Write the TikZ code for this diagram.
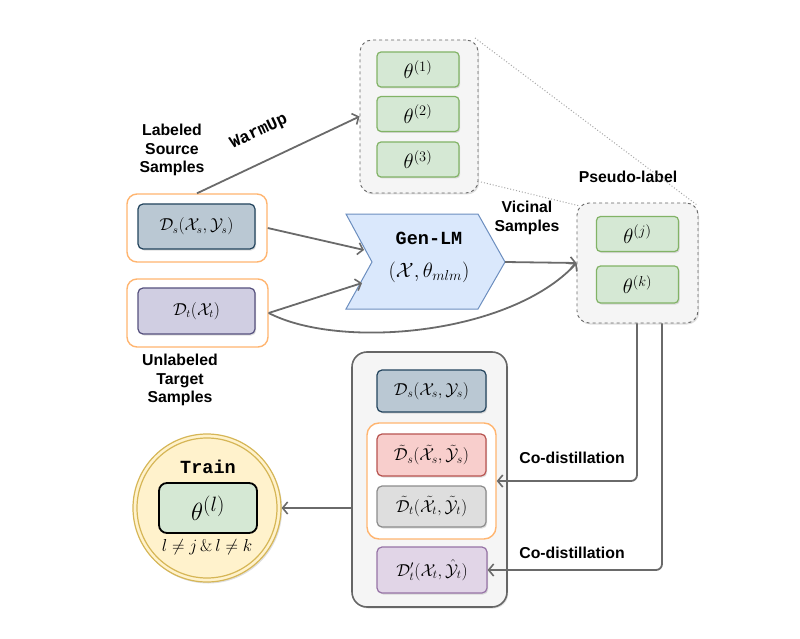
\documentclass[tikz,border=0pt]{standalone}
\usepackage{fontspec}
\setsansfont{Liberation Sans}
\setmonofont{Liberation Mono}
\usepackage{amsmath,amssymb}
\usetikzlibrary{arrows.meta,shadows,positioning}
\definecolor{grnF}{HTML}{D5E8D4}\definecolor{grnD}{HTML}{82B366}
\definecolor{grpF}{HTML}{F5F5F5}\definecolor{grpD}{HTML}{666666}
\definecolor{bluF}{HTML}{BAC8D3}\definecolor{bluD}{HTML}{23445D}
\definecolor{purF}{HTML}{D0CEE2}\definecolor{purD}{HTML}{56517E}
\definecolor{orgD}{HTML}{FFB570}
\definecolor{genF}{HTML}{DAE8FC}\definecolor{genD}{HTML}{6C8EBF}
\definecolor{redF}{HTML}{F8CECC}\definecolor{redD}{HTML}{B85450}
\definecolor{gryF}{HTML}{DEDEDE}\definecolor{gryD}{HTML}{8C8C8C}
\definecolor{lpuF}{HTML}{E1D5E7}\definecolor{lpuD}{HTML}{9673A6}
\definecolor{ylwF}{HTML}{FFF2CC}\definecolor{ylwD}{HTML}{D6B656}
\definecolor{arr}{HTML}{6A6A6A}
\tikzset{
  shd/.style={drop shadow={opacity=0.25,shadow xshift=1.2pt,shadow yshift=-1.5pt}},
  thbox/.style={draw=grnD,fill=grnF,line width=1.2pt,rounded corners=4pt,minimum width=82pt,minimum height=35pt,shd,font=\fontsize{21}{21}\selectfont},
  grpbox/.style={draw=grpD,fill=grpF,dashed,line width=0.9pt,rounded corners=12pt,shd},
  orgbox/.style={draw=orgD,fill=white,line width=1.4pt,rounded corners=10pt},
  dbox/.style={rounded corners=5pt,line width=1.2pt,shd,font=\fontsize{16}{16}\selectfont},
  bbox/.style={dbox,minimum width=109pt,font=\fontsize{18.5}{18.5}\selectfont},
  lbl/.style={font=\sffamily\bfseries\fontsize{15.8}{18.5}\selectfont,align=center},
  conn/.style={draw=arr,line width=1.8pt,-{Straight Barb[length=5pt,width=12pt,line width=1.6pt]}},
  dotl/.style={draw=gray!70,dotted,line width=1pt},
}
\begin{document}
\begin{tikzpicture}[x=1pt,y=-1pt]
\useasboundingbox (0,0) rectangle (800,639);
% top group
\node[grpbox,minimum width=118pt,minimum height=153pt] (g) at (419,116.5) {};
\node[thbox] (t1) at (418,69.5) {$\theta^{(1)}$};
\node[thbox] (t2) at (418,114) {$\theta^{(2)}$};
\node[thbox] (t3) at (418,159.5) {$\theta^{(3)}$};
% source / target
\node[orgbox,minimum width=140pt,minimum height=68pt] (oS) at (197,228) {};
\node[dbox,draw=bluD,fill=bluF,minimum width=117pt,minimum height=45pt] (dS) at (196.5,226.5) {$\mathcal{D}_s(\mathcal{X}_s,\mathcal{Y}_s)$};
\node[orgbox,minimum width=141pt,minimum height=68pt] (oT) at (197.5,313) {};
\node[dbox,draw=purD,fill=purF,minimum width=117pt,minimum height=46pt] (dT) at (196.5,311) {$\mathcal{D}_t(\mathcal{X}_t)$};
\node[lbl] (lsrc) at (172,150) {Labeled\\Source\\Samples};
\node[lbl] (ltgt) at (180,380) {Unlabeled\\Target\\Samples};
% Gen-LM
\coordinate (gA) at (346,214); \coordinate (gB) at (478,214);
\coordinate (gTip) at (505,262); \coordinate (gC) at (478,309);
\coordinate (gD) at (346,309); \coordinate (gN) at (372,262);
\coordinate (gInS) at (364,250); \coordinate (gInT) at (362,283);
\draw[draw=genD,fill=genF,line width=1pt] (gA)--(gB)--(gTip)--(gC)--(gD)--(gN)--cycle;
\node[font=\ttfamily\bfseries\fontsize{18.5}{18.5}\selectfont] (gl) at (429,238) {Gen-LM};
\node[font=\fontsize{22}{22}\selectfont] (gm) at (429,272) {$(\mathcal{X},\theta_{mlm})$};
% pseudo-label group
\node[grpbox,minimum width=121pt,minimum height=120pt] (P) at (637.5,263) {};
\node[thbox] (tj) at (637.5,234) {$\theta^{(j)}$};
\node[thbox,minimum height=37pt] (tk) at (637.5,284.5) {$\theta^{(k)}$};
\node[lbl] (lps) at (628,177) {Pseudo-label};
\node[lbl] (lvic) at (527,218) {Vicinal\\Samples};
% dotted zoom lines
\draw[dotl] (475,38) -- (697,205);
\draw[dotl] (481,182) -- (580,206);
% big box
\node[draw=grpD,fill=grpF,line width=1.6pt,rounded corners=15pt,minimum width=155pt,minimum height=255pt,shd] (B) at (429.5,479.5) {};
\node[bbox,draw=bluD,fill=bluF,minimum height=42pt] (bS) at (431.5,391) {$\mathcal{D}_s(\mathcal{X}_s,\mathcal{Y}_s)$};
\node[orgbox,minimum width=129pt,minimum height=116pt,rounded corners=12pt] (O2) at (431.5,481) {};
\node[bbox,draw=redD,fill=redF,minimum height=42pt] (bR) at (431.5,455) {$\tilde{\mathcal{D}}_s(\tilde{\mathcal{X}}_s,\tilde{\mathcal{Y}}_s)$};
\node[bbox,draw=gryD,fill=gryF,minimum height=41pt] (bG) at (431.5,506.5) {$\tilde{\mathcal{D}}_t(\tilde{\mathcal{X}}_t,\tilde{\mathcal{Y}}_t)$};
\node[bbox,draw=lpuD,fill=lpuF,minimum width=110pt,minimum height=46pt] (bP) at (432,570) {$\mathcal{D}'_t(\mathcal{X}_t,\hat{\mathcal{Y}}_t)$};
\node[lbl] (lc1) at (572,458) {Co-distillation};
\node[lbl] (lc2) at (572,553) {Co-distillation};
% train circle
\node[circle,draw=ylwD,fill=ylwF,line width=1.2pt,minimum size=148pt,shd] (C) at (207,508) {};
\node[circle,draw=ylwD,line width=1.2pt,minimum size=140pt] (Ci) at (207,508) {};
\node[font=\ttfamily\bfseries\fontsize{18.5}{18.5}\selectfont] (tr) at (208,467) {Train};
\node[draw=black,fill=grnF,line width=1.8pt,rounded corners=8pt,minimum width=98pt,minimum height=50pt,font=\fontsize{30}{30}\selectfont] (tl) at (208,508) {$\theta^{(l)}$};
\node[font=\fontsize{17}{17}\selectfont] (cond) at (207,547) {$l\neq j\,\&\,l\neq k$};
% connectors
\draw[conn] (oS.north) -- (g.west);
\node[font=\ttfamily\bfseries\fontsize{17}{17}\selectfont,rotate=25] (wu) at (259,132) {WarmUp};
\draw[conn] (oS.east) -- (gInS);
\draw[conn] (oT.east) -- (gInT);
\draw[conn] (oT.east) .. controls (340,350) and (510,335) .. (P.west);
\draw[conn] (gTip) -- (P.west);
\draw[conn,rounded corners=6pt] ([xshift=-0.5pt]P.south) |- (O2.east);
\draw[conn,rounded corners=6pt] ([xshift=24.5pt]P.south) |- (bP.east);
\draw[conn] (B.west |- C.east) -- (C.east);
\end{tikzpicture}
\end{document}
